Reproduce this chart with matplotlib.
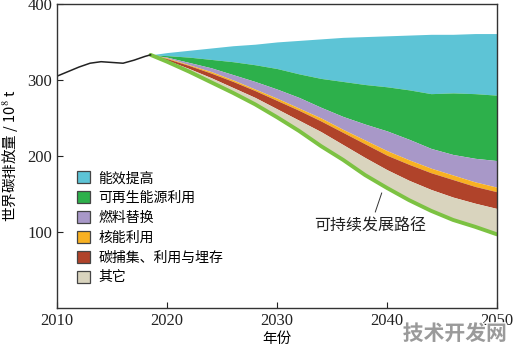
import numpy as np
import matplotlib
matplotlib.use('Agg')
from matplotlib import pyplot as plt
from matplotlib.patches import Patch
import matplotlib.patheffects as pe

plt.rcParams['font.family'] = ['Liberation Serif', 'Noto Sans CJK SC']
plt.rcParams['mathtext.fontset'] = 'stix'

# historical emissions (10^8 t)
hist_years = [2010, 2011, 2012, 2013, 2014, 2015, 2016, 2017, 2018, 2018.5]
hist_vals = [305, 311, 317, 322, 324, 323, 322, 326, 331, 333]

# scenario boundaries, top to bottom
years = [2018.5, 2020, 2022, 2024, 2026, 2028, 2030, 2032, 2034, 2036,
         2038, 2040, 2042, 2044, 2046, 2048, 2050]
baseline = [333, 336, 339, 342, 345, 347, 350, 352, 354, 356,
            357, 358, 359, 360, 360, 361, 361]
after_efficiency = [333, 332, 330, 327, 324, 320, 315, 308, 302, 298,
                    294, 291, 287, 282, 283, 282, 280]
after_renewable = [333, 330, 323, 316, 307, 298, 288, 277, 264, 252,
                   242, 233, 222, 210, 202, 197, 194]
after_fuel = [333, 329, 320, 311, 300, 288, 276, 263, 250, 235,
              221, 207, 195, 184, 175, 166, 159]
after_nuclear = [333, 328, 319, 309, 298, 286, 273, 260, 246, 231,
                 216, 201, 189, 178, 169, 160, 153]
after_ccus = [333, 326, 315, 303, 290, 277, 262, 247, 232, 215,
              198, 182, 168, 156, 146, 138, 131]
sustainable = [333, 324, 311, 297, 283, 268, 251, 233, 213, 195,
               175, 158, 142, 128, 116, 107, 97]

labels = ['能效提高', '可再生能源利用', '燃料替换', '核能利用',
          '碳捕集、利用与埋存', '其它']
colors = ['#5dc4d6', '#2db04b', '#a898c8', '#f8b122', '#b0432a', '#d9d4be']

fig = plt.figure(figsize=(5.14, 3.53), dpi=100)
ax = fig.add_axes([0.111, 0.127, 0.856, 0.862])

bounds = [baseline, after_efficiency, after_renewable, after_fuel,
          after_nuclear, after_ccus, sustainable]
for i in range(6):
    ax.fill_between(years, bounds[i + 1], bounds[i], color=colors[i],
                    linewidth=0)

ax.plot(years, sustainable, color='#7cc242', lw=2.8, solid_capstyle='round')
ax.plot(hist_years, hist_vals, color='#222222', lw=1.1)

ax.annotate('可持续发展路径', xy=(2039.6, 155), xytext=(2038.5, 108),
            ha='center', va='center', fontsize=11.5, color='#222222',
            family=['Noto Sans CJK SC'],
            arrowprops=dict(arrowstyle='-', lw=0.7, color='#333333'))

ax.set_xlim(2010, 2050)
ax.set_ylim(0, 400)
ax.set_xticks([2010, 2020, 2030, 2040, 2050])
ax.set_yticks([100, 200, 300, 400])
ax.tick_params(axis='both', direction='in', length=4, width=0.8,
               labelsize=12, colors='#222222')
for s in ax.spines.values():
    s.set_color('#333333')
    s.set_linewidth(1.0)

ax.set_xlabel('年份', fontsize=10.5, family=['Noto Sans CJK SC'], labelpad=2)
ax.set_ylabel('世界碳排放量 / 10$^8$ t', fontsize=10.5,
              family=['Noto Sans CJK SC'], labelpad=5)

handles = [Patch(facecolor=c, edgecolor='#444444', linewidth=0.9) for c in colors]
leg = ax.legend(handles, labels, loc='upper left', bbox_to_anchor=(0.045, 0.45),
                frameon=False, borderpad=0, borderaxespad=0,
                handlelength=0.95, handleheight=0.95, handletextpad=0.6,
                labelspacing=0.42, prop={'family': 'Noto Sans CJK SC', 'size': 10})

fig.text(0.885, 0.055, '技术开发网', fontsize=15, color='#9a9a9a',
         fontweight='bold', family=['Noto Sans CJK SC'], ha='center',
         va='center', path_effects=[pe.withStroke(linewidth=2, foreground='white')])

fig.savefig('out.png', dpi=100)
